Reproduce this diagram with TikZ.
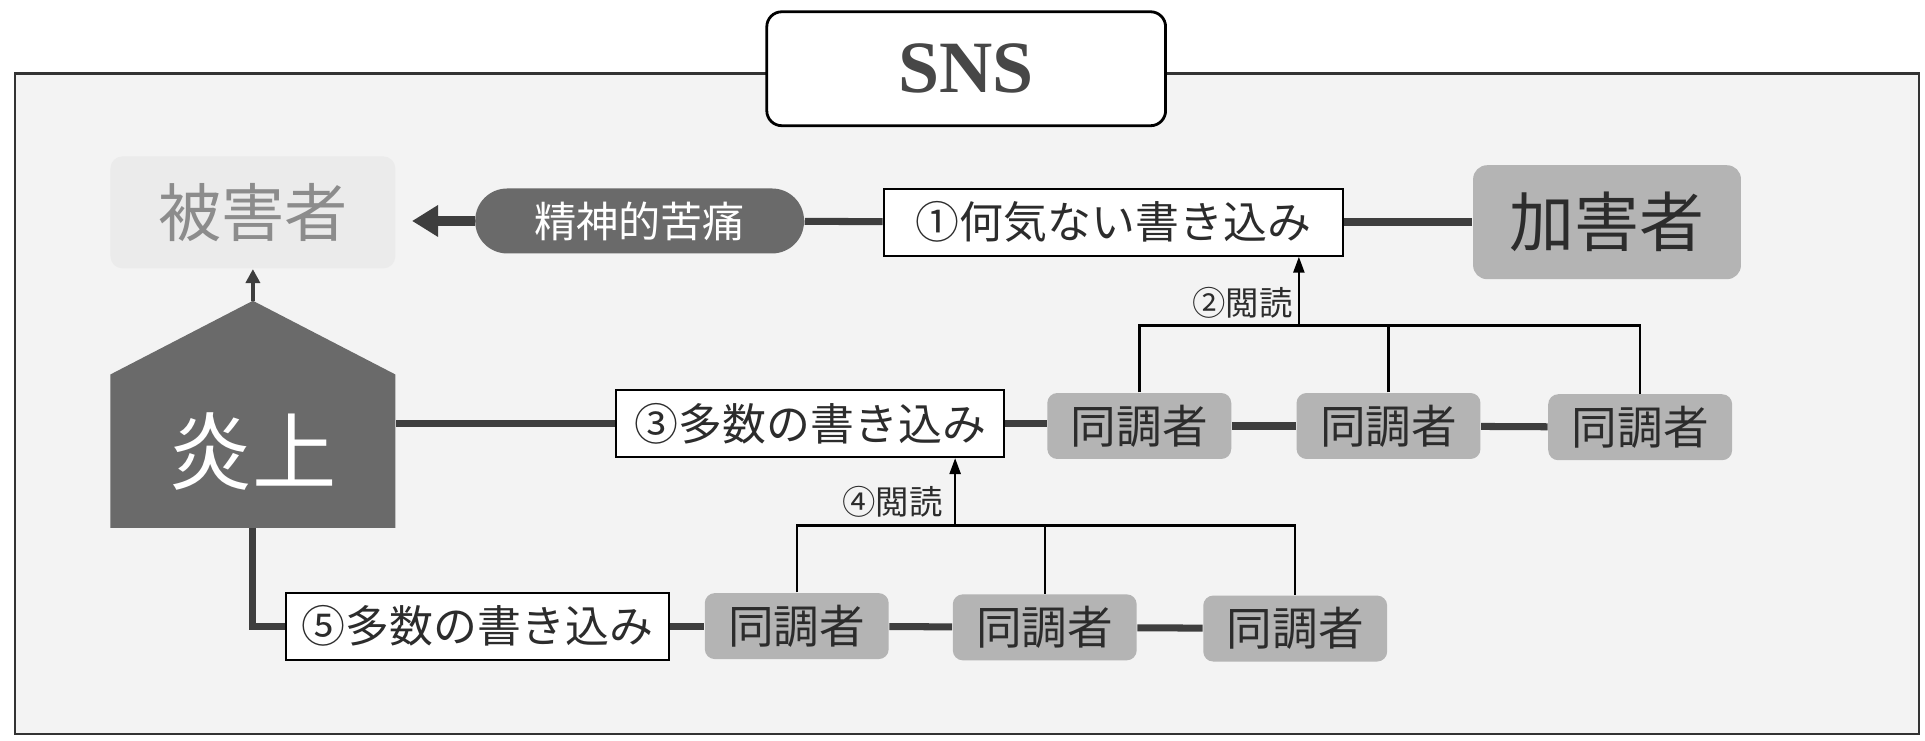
\documentclass[tikz,border=0pt]{standalone}
\usepackage{fontspec}
\setmainfont{Liberation Serif}
\newfontfamily\jp{Noto Sans CJK JP}
\usetikzlibrary{arrows.meta}
\definecolor{framebg}{HTML}{F3F3F3}
\definecolor{palegray}{HTML}{EBEBEB}
\definecolor{midgray}{HTML}{B4B4B4}
\definecolor{darkgray}{HTML}{6A6A6A}
\definecolor{linegray}{HTML}{3E3E3E}
\definecolor{textdark}{HTML}{2C2C2C}
\tikzset{
	whitebox/.style={draw=black, line width=0.6pt, fill=white, inner sep=0pt, text=textdark, font=\jp\fontsize{12.5}{14}\selectfont, minimum height=0.67cm},
	graybox/.style={fill=midgray, rounded corners=0.1cm, inner sep=0pt, text=textdark, font=\jp\fontsize{13}{14}\selectfont, minimum width=1.84cm, minimum height=0.66cm},
	link/.style={draw=linegray, line width=2pt},
	bracket/.style={draw=black, line width=0.7pt},
	readlabel/.style={inner sep=0pt, text=textdark, font=\jp\fontsize{9.5}{10}\selectfont},
}

\begin{document}
\begin{tikzpicture}[x=0.012277cm, y=-0.012277cm]
	%%%%% START %%%%%
	\useasboundingbox (0,0) rectangle (1568,603);
	\draw[fill=framebg, line width=0.7pt, draw=black!80] (12,60) rectangle (1563,598);
	\node[draw, fill=white, rounded corners=0.15cm, line width=0.8pt, minimum width=3.99cm, minimum height=1.14cm, font=\bfseries\fontsize{21}{24}\selectfont, text=black!72] (sns) at (787,56) {SNS};
	
	% top row
	\node[fill=palegray, rounded corners=0.12cm, minimum width=2.85cm, minimum height=1.12cm, text=black!45, font=\jp\fontsize{18}{20}\selectfont] (higai) at (206,173) {被害者};
	\node[fill=darkgray, rounded corners=0.32cm, minimum width=3.29cm, minimum height=0.65cm, inner sep=0pt, text=white, font=\jp\fontsize{12}{13}\selectfont] (seishin) at (521,180) {精神的苦痛};
	\node[whitebox, minimum width=4.6cm] (kaki1) at (907,181) {①何気ない書き込み};
	\node[fill=midgray, rounded corners=0.14cm, minimum width=2.68cm, minimum height=1.14cm, text=textdark, font=\jp\fontsize{18.5}{20}\selectfont] (kagai) at (1309,181) {加害者};
	
	\draw[link, line width=2.6pt, -{Triangle[length=0.26cm, width=0.3cm]}, shorten >=0.16cm] (seishin.west) -- (seishin.west -| higai.east);
	\draw[link] (seishin) -- (kaki1);
	\draw[link, line width=2.4pt] (kaki1) -- (kagai);
	
	% enjo
	\coordinate (apex) at (206,245);
	\fill[darkgray] (90,305) -- (apex) -- (322,305) -- (322,430) -- (90,430) -- cycle;
	\node[minimum width=2.85cm, minimum height=1.53cm, text=white, font=\jp\fontsize{24}{26}\selectfont] (enjo) at (206,367.5) {炎上};
	\draw[draw=linegray, line width=1.2pt, -{Triangle[length=0.14cm, width=0.14cm]}] (apex) -- (higai.south);
	
	% second row
	\node[whitebox, minimum width=3.88cm] (kaki3) at (660,345) {③多数の書き込み};
	\node[graybox] (d21) at (928,347) {同調者};
	\node[graybox] (d22) at (1131,347) {同調者};
	\node[graybox] (d23) at (1336,348) {同調者};
	\draw[link] (enjo.east |- kaki3.west) -- (kaki3.west);
	\draw[link] (kaki3.east) -- (kaki3.east -| d21.west);
	\draw[link] (d21) -- (d22);
	\draw[link] (d22) -- (d23);
	
	\coordinate (top2) at (1058,265);
	\draw[bracket] (d21.north) -- (d21.north |- top2) -- (d23.north |- top2) -- (d23.north);
	\draw[bracket] (d22.north) -- (d22.north |- top2);
	\draw[bracket, -{Triangle[length=0.16cm, width=0.11cm]}] (top2) -- (top2 |- kaki1.south);
	\node[readlabel] (read2) at (1012,247) {②閲読};
	
	% third row
	\node[whitebox, minimum width=3.83cm] (kaki5) at (389,510) {⑤多数の書き込み};
	\node[graybox] (d31) at (649,510) {同調者};
	\node[graybox] (d32) at (851,511) {同調者};
	\node[graybox] (d33) at (1055,512) {同調者};
	\draw[link] (enjo.south) |- (kaki5.west);
	\draw[link] (kaki5.east) -- (kaki5.east -| d31.west);
	\draw[link] (d31) -- (d32);
	\draw[link] (d32) -- (d33);
	
	\coordinate (top3) at (778,428);
	\draw[bracket] (d31.north) -- (d31.north |- top3) -- (d33.north |- top3) -- (d33.north);
	\draw[bracket] (d32.north) -- (d32.north |- top3);
	\draw[bracket, -{Triangle[length=0.16cm, width=0.11cm]}] (top3) -- (top3 |- kaki3.south);
	\node[readlabel] (read4) at (727,409) {④閲読};
	%%%%% END %%%%%
\end{tikzpicture}
\end{document}
